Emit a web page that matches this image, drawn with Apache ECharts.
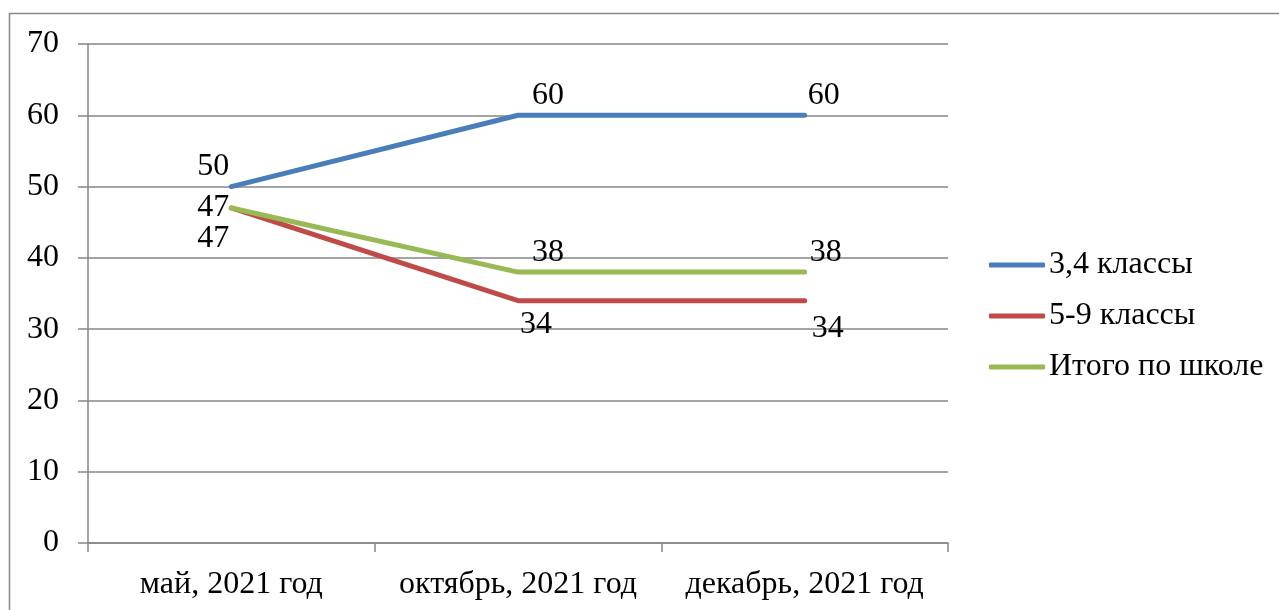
<!DOCTYPE html>
<html><head><meta charset="utf-8">
<script src="https://cdn.jsdelivr.net/npm/echarts@6/dist/echarts.min.js"></script>
<style>html,body{margin:0;padding:0;background:#fff}#c{width:1279px;height:610px}</style>
</head><body><div id="c"></div>
<script>
const categories = ['май, 2021 год', 'октябрь, 2021 год', 'декабрь, 2021 год'];
const seriesNames = ['3,4 классы', '5-9 классы', 'Итого по школе'];
const s34 = [50, 60, 60];
const s59 = [47, 34, 34];
const sTotal = [47, 38, 38];
const yTicks = [0, 10, 20, 30, 40, 50, 60, 70];

const FONT = '"Liberation Serif", "Times New Roman", serif';
const FS = 32;
const colors = ['#4a7ebb', '#be4b48', '#98b954'];
const offsets = [
  [[-18,-20],[30,-20],[19,-20]],
  [[-18,31],[18,24],[23,28]],
  [[-18,0],[30,-20],[21,-20]]
];
const allData = [s34, s59, sTotal];

const chart = echarts.init(document.getElementById('c'));
chart.setOption({
  animation: false,
  textStyle: {fontFamily: FONT},
  graphic: [{type:'rect', shape:{x:9.5,y:13.5,width:1400,height:800}, style:{fill:'none', stroke:'#888', lineWidth:1.5}, z:-1}],
  grid: {left: 88, top: 44, width: 860, height: 499, containLabel: false},
  legend: {
    orient: 'vertical', left: 984, top: 244,
    itemWidth: 56, itemHeight: 5, itemGap: 19, icon: 'roundRect',
    textStyle: {fontFamily: FONT, fontSize: FS, color: '#000', lineHeight: 32, padding:[0,0,0,-1]},
    data: seriesNames
  },
  xAxis: {
    type: 'category', data: categories, boundaryGap: true,
    axisLine: {lineStyle: {color: '#868686', width: 1.5}},
    axisTick: {show: true, interval: 0, length: 9, lineStyle: {color: '#868686', width: 1.5}},
    axisLabel: {interval: 0, fontFamily: FONT, fontSize: FS, color: '#000', margin: 26}
  },
  yAxis: {
    type: 'value', min: yTicks[0], max: yTicks[yTicks.length-1], interval: 10,
    axisLine: {show: true, lineStyle: {color: '#868686', width: 1.5}},
    axisTick: {show: true, length: 10, lineStyle: {color: '#868686', width: 1.5}},
    splitLine: {show: true, lineStyle: {color: '#868686', width: 1.5}},
    axisLabel: {fontFamily: FONT, fontSize: FS, color: '#000', margin: 29}
  },
  series: seriesNames.map((n, i) => ({
    name: n, type: 'line', symbol: 'circle', symbolSize: 1, showSymbol: true,
    z: i === 0 ? 3 : (i === 2 ? 2 : 1),
    lineStyle: {color: colors[i], width: 5, cap: 'round'},
    itemStyle: {color: colors[i]},
    data: allData[i].map((v, j) => ({
      value: v,
      label: {show: true, position: 'inside', offset: offsets[i][j], fontFamily: FONT, fontSize: FS, color: '#000', align: 'center', verticalAlign: 'middle'}
    }))
  }))
});
</script></body></html>
